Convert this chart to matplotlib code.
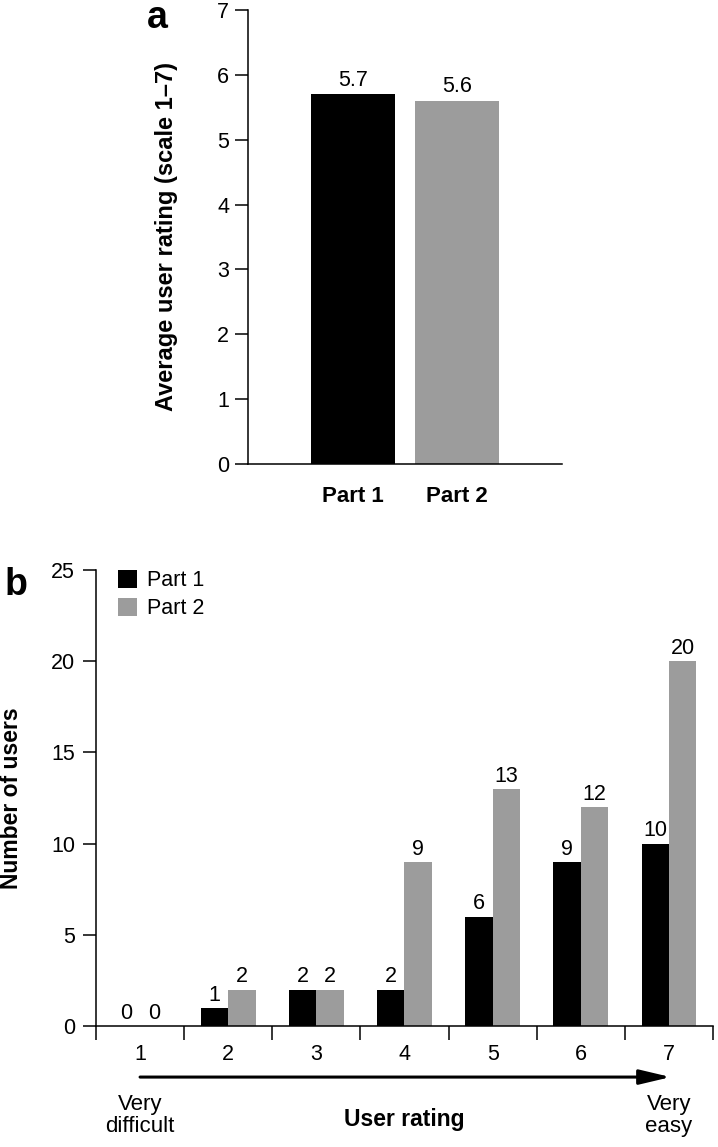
import matplotlib.pyplot as plt
import numpy as np

plt.rcParams['font.family'] = ['Liberation Sans', 'DejaVu Sans']

# panel a
parts = ['Part 1', 'Part 2']
avg_rating = [5.7, 5.6]

# panel b
ratings = [1, 2, 3, 4, 5, 6, 7]
part1_users = [0, 1, 2, 2, 6, 9, 10]
part2_users = [0, 2, 2, 9, 13, 12, 20]

black = '#000000'
gray = '#9c9c9c'

fig = plt.figure(figsize=(7.18, 11.47), dpi=100)

# ---- a ----
ax1 = fig.add_axes([0.3454, 0.5955, 0.4373, 0.3958])
xa = np.arange(1, len(parts) + 1)
ax1.bar(xa, avg_rating, width=0.8, color=[black, gray])
for x, v in zip(xa, avg_rating):
    ax1.annotate(f'{v}', (x, v), xytext=(0, 2.5), textcoords='offset points',
                 ha='center', va='bottom', fontsize=15.5)
ax1.set_xlim(0, 3)
ax1.set_ylim(0, 7)
ax1.set_yticks(range(0, 8))
ax1.set_xticks(xa)
ax1.set_xticklabels(parts, fontsize=16, fontweight='bold')
ax1.tick_params(axis='x', length=0, pad=16)
ax1.tick_params(axis='y', length=9.5, width=1.1, pad=4, labelsize=15.5)
ax1.spines['top'].set_visible(False)
ax1.spines['right'].set_visible(False)
for s in ['left', 'bottom']:
    ax1.spines[s].set_linewidth(1.1)
ax1.set_ylabel('Average user rating (scale 1\u20137)', fontsize=17, fontweight='bold')
ax1.yaxis.set_label_coords(-0.222, 0.5)
fig.text(157 / 718, 1 - 18 / 1147, 'a', fontsize=27, fontweight='bold', ha='center', va='center')

# ---- b ----
ax2 = fig.add_axes([0.1337, 0.1055, 0.8593, 0.3976])
xb = np.array(ratings)
w = 0.31
ax2.bar(xb - w / 2, part1_users, width=w, color=black, label='Part 1')
ax2.bar(xb + w / 2, part2_users, width=w, color=gray, label='Part 2')
for x, v in zip(xb - w / 2, part1_users):
    ax2.annotate(f'{v}', (x, v), xytext=(0, 1.5), textcoords='offset points',
                 ha='center', va='bottom', fontsize=15.5)
for x, v in zip(xb + w / 2, part2_users):
    ax2.annotate(f'{v}', (x, v), xytext=(0, 1.5), textcoords='offset points',
                 ha='center', va='bottom', fontsize=15.5)
ax2.set_xlim(0.5, 7.5)
ax2.set_ylim(0, 25)
ax2.set_yticks(range(0, 26, 5))
ax2.set_xticks(xb)
ax2.set_xticks(np.arange(0.5, 8, 1), minor=True)
ax2.tick_params(axis='x', which='major', length=0, pad=13, labelsize=15.5)
ax2.tick_params(axis='x', which='minor', length=10, width=1.1)
ax2.tick_params(axis='y', length=9.5, width=1.1, pad=5.5, labelsize=15.5)
ax2.spines['top'].set_visible(False)
ax2.spines['right'].set_visible(False)
for s in ['left', 'bottom']:
    ax2.spines[s].set_linewidth(1.1)
ax2.set_ylabel('Number of users', fontsize=16.5, fontweight='bold')
ax2.yaxis.set_label_coords(-0.119, 0.5)

ax2.annotate('', xy=(7.02, -0.112), xytext=(1, -0.112),
             xycoords=('data', 'axes fraction'), textcoords=('data', 'axes fraction'),
             arrowprops=dict(arrowstyle='-|>,head_length=1.9,head_width=0.45',
                             mutation_scale=10, shrinkA=0, shrinkB=0,
                             color='black', lw=2.2), annotation_clip=False)
ax2.text(1, -0.197, 'Very\ndifficult', transform=ax2.get_xaxis_transform(),
         ha='center', va='center', fontsize=16, linespacing=1.05)
ax2.text(4, -0.204, 'User rating', transform=ax2.get_xaxis_transform(),
         ha='center', va='center', fontsize=16.5, fontweight='bold')
ax2.text(7, -0.197, 'Very\neasy', transform=ax2.get_xaxis_transform(),
         ha='center', va='center', fontsize=16, linespacing=1.05)

ax2.legend(loc='upper left', bbox_to_anchor=(0.0357, 1.0), frameon=False,
           fontsize=15.5, handlelength=0.9, handleheight=0.9, handletextpad=0.45,
           labelspacing=0.3, borderpad=0, borderaxespad=0)
fig.text(16 / 718, 1 - 585 / 1147, 'b', fontsize=27, fontweight='bold', ha='center', va='center')

fig.savefig('out.png', dpi=100)
